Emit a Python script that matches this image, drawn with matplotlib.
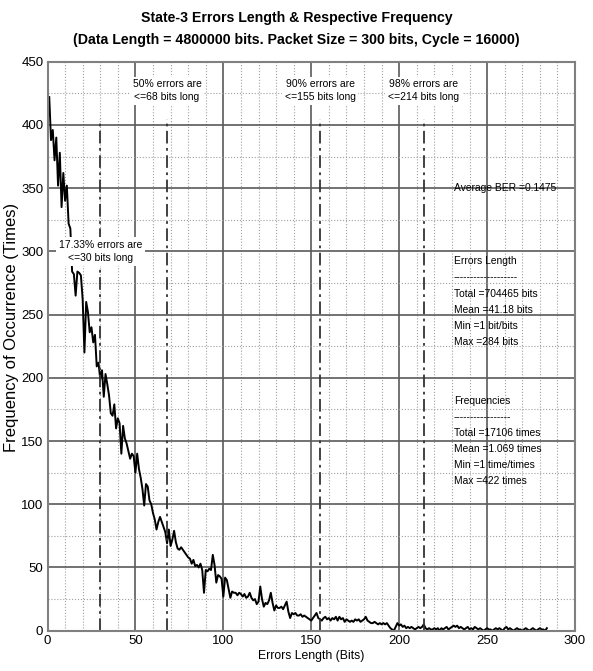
import numpy as np
import matplotlib
matplotlib.use('Agg')
import matplotlib.pyplot as plt
from matplotlib.ticker import MultipleLocator

plt.rcParams['font.family'] = ['Liberation Sans Narrow', 'Liberation Sans', 'DejaVu Sans']

# Frequency of each error length, bits 1..284
freq = [
    422, 388, 396, 372, 390, 352, 378, 335, 362, 340,
    352, 322, 318, 284, 282, 265, 284, 283, 281, 262,
    220, 260, 252, 236, 240, 228, 234, 209, 212, 199,
    206, 185, 203, 195, 186, 172, 170, 179, 160, 168,
    164, 140, 162, 152, 148, 142, 136, 140, 138, 125,
    140, 128, 121, 112, 99, 116, 114, 103, 100, 93,
    88, 80, 86, 90, 86, 82, 78, 69, 80, 67,
    72, 79, 70, 65, 64, 66, 64, 62, 60, 58,
    57, 53, 56, 51, 52, 50, 53, 48, 30, 48,
    47, 49, 48, 60, 52, 38, 44, 43, 41, 27,
    42, 40, 33, 26, 31, 30, 30, 28, 30, 29,
    27, 29, 26, 27, 30, 26, 24, 25, 21, 23,
    35, 25, 19, 22, 21, 24, 30, 22, 16, 20,
    18, 18, 19, 17, 20, 23, 15, 10, 14, 13,
    14, 12, 12, 13, 11, 12, 11, 10, 9, 8,
    10, 12, 14, 10, 9, 8, 10, 11, 9, 10,
    8, 10, 9, 11, 8, 11, 9, 10, 7, 9,
    8, 7, 8, 7, 9, 8, 9, 7, 8, 9,
    11, 8, 7, 6, 6, 7, 6, 5, 6, 5,
    6, 5, 6, 4, 2, 1, 0, 3, 6, 4,
    5, 3, 4, 2, 3, 2, 3, 2, 1, 2,
    3, 2, 3, 5, 2, 1, 2, 1, 1, 2,
    1, 2, 0, 2, 1, 2, 3, 1, 2, 3,
    4, 3, 4, 2, 3, 2, 1, 2, 3, 1,
    2, 1, 3, 2, 1, 2, 1, 0, 1, 2,
    1, 1, 0, 1, 2, 1, 2, 1, 0, 2,
    3, 1, 2, 1, 0, 1, 2, 1, 1, 0,
    1, 2, 1, 0, 1, 2, 1, 0, 1, 2,
    1, 1, 0, 2,
]
err_len = np.arange(1, len(freq) + 1)

# percentile markers
pct_x = [30, 68, 155, 214]
pct_labels = ['17.33% errors are\n<=30 bits long', '50% errors are\n<=68 bits long',
              '90% errors are\n<=155 bits long', '98% errors are\n<=214 bits long']
pct_label_y = [300, 427, 427, 427]

ber_text = 'Average BER =0.1475'
len_lines = ['Errors Length', '-------------------', 'Total =704465 bits',
             'Mean =41.18 bits', 'Min =1 bit/bits', 'Max =284 bits']
freq_lines = ['Frequencies', '-----------------', 'Total =17106 times',
              'Mean =1.069 times', 'Min =1 time/times', 'Max =422 times']

fig = plt.figure(figsize=(5.93, 6.71), dpi=100)
ax = fig.add_axes([47.5 / 593, 40.3 / 671, 527.5 / 593, 569 / 671])

ax.set_xlim(0, 300)
ax.set_ylim(0, 450)
ax.xaxis.set_major_locator(MultipleLocator(50))
ax.yaxis.set_major_locator(MultipleLocator(50))
ax.xaxis.set_minor_locator(MultipleLocator(10))
ax.yaxis.set_minor_locator(MultipleLocator(25))
ax.grid(which='major', color='#5a5a5a', linestyle='-', linewidth=1.2)
ax.grid(which='minor', color='#a0a0a0', linestyle=':', linewidth=0.8)
ax.set_axisbelow(True)
ax.tick_params(which='both', length=0, labelsize=9.5, pad=3)
for s in ax.spines.values():
    s.set_color('#808080')
    s.set_linewidth(1.5)

ax.plot(err_len, freq, color='black', linewidth=1.4, zorder=2)

for xv in pct_x:
    ax.plot([xv, xv], [0, 405], color='#333333', linewidth=1.3,
            dashes=(7, 2.5, 1.5, 2.5), zorder=2)

for xv, yv, txt in zip(pct_x, pct_label_y, pct_labels):
    ax.text(xv, yv, txt, ha='center', va='center', fontsize=7.5, zorder=4,
            linespacing=1.35, bbox=dict(facecolor='white', edgecolor='none', pad=2))

ax.text(231, 350, ber_text, ha='left', va='center', fontsize=7.4)
for i, t in enumerate(len_lines):
    ax.text(231, 292 - i * 12.7, t, ha='left', va='center', fontsize=7.4)
for i, t in enumerate(freq_lines):
    ax.text(231, 182 - i * 12.7, t, ha='left', va='center', fontsize=7.4)

ax.set_xlabel('Errors Length (Bits)', fontsize=8.8, labelpad=2)
fig.text(12 / 593, 1 - 327 / 671, 'Frequency of Occurrence (Times)', rotation=90,
         ha='center', va='center', fontsize=12, family=['Liberation Sans', 'DejaVu Sans'])

fig.text(0.5, 1 - 18 / 671, 'State-3 Errors Length & Respective Frequency',
         ha='center', va='center', fontsize=10.2, fontweight='bold')
fig.text(0.5, 1 - 40 / 671, '(Data Length = 4800000 bits. Packet Size = 300 bits, Cycle = 16000)',
         ha='center', va='center', fontsize=10.2, fontweight='bold')

fig.savefig('out.png', dpi=100)
